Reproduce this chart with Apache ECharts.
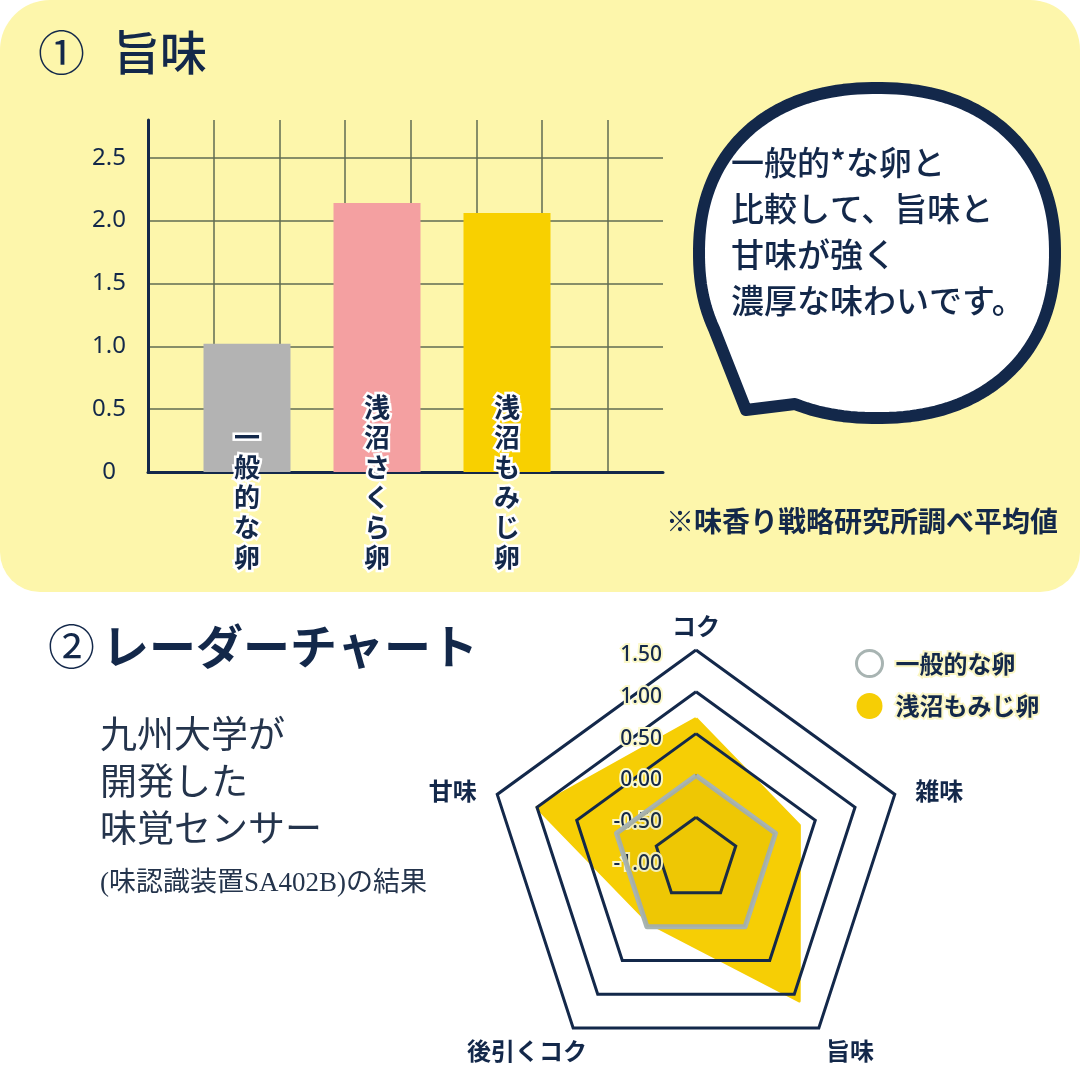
<!DOCTYPE html>
<html><head><meta charset="utf-8">
<script src="https://cdn.jsdelivr.net/npm/echarts/dist/echarts.min.js"></script>
<style>html,body{margin:0;padding:0;background:#fff}#c{width:1080px;height:1080px}</style>
</head><body><div id="c"></div>
<script>
// ---- data ----
const barCategories = ['一般的な卵', '浅沼さくら卵', '浅沼もみじ卵'];
const barValues = [1.02, 2.14, 2.06];
const barColors = ['#b3b3b3', '#f4a0a1', '#f8d000'];
const barTicks = [0, 0.5, 1.0, 1.5, 2.0, 2.5];

const radarIndicators = ['コク', '甘味', '後引くコク', '旨味', '雑味'];
const radarGeneral = [0, 0, 0, 0, 0];
const radarMomiji = [0.68, 1.0, -0.05, 1.1, 0.3];
const radarTicks = [-1.0, -0.5, 0.0, 0.5, 1.0, 1.5];
const seriesNames = ['一般的な卵', '浅沼もみじ卵'];

// ---- styles ----
const NAVY = '#13284a';
const SANS = '"Noto Sans CJK JP", "Noto Sans", sans-serif';
const NUM = '"Noto Sans", "Noto Sans CJK JP", sans-serif';
const SERIF = '"Liberation Serif", "DejaVu Serif", "Noto Sans CJK JP", serif';
const GRIDC = '#5f6b52';

const chart = echarts.init(document.getElementById('c'), null, {renderer: 'canvas'});

function txt(text, x, y, o) {
  return {
    type: 'text', z: 20, silent: true,
    style: Object.assign({
      text: text, x: x, y: y, fill: NAVY, fontFamily: SANS, fontSize: 24,
      align: 'left', verticalAlign: 'middle', textAlign: 'left', textVerticalAlign: 'middle'
    }, o || {})
  };
}

// speech bubble outline: rounded contour with a small tail (decoration only)
function bubbleOutline() {
  const cx = 877, cy = 253, rx = 178, ry = 165, e = 0.9;
  const pw = (v) => Math.sign(v) * Math.pow(Math.abs(v), e);
  const pts = [];
  const t0 = 155, t1 = 475;
  for (let t = t0; t < t1; t += 2) {
    const a = t * Math.PI / 180;
    pts.push([cx + rx * pw(Math.cos(a)), cy + ry * pw(Math.sin(a))]);
  }
  const a1 = t1 * Math.PI / 180;
  pts.push([cx + rx * pw(Math.cos(a1)), cy + ry * pw(Math.sin(a1))]);
  pts.push([746, 410]);
  return pts;
}

const nameKind = {'コク': 't', '甘味': 's', '雑味': 's', '旨味': 'b', '後引くコク': 'c'};
const nameBase = {color: NAVY, fontSize: 24, fontWeight: 'bold', fontFamily: SANS};

const option = {
  animation: false,
  backgroundColor: '#ffffff',
  graphic: [
    {type: 'rect', z: -10, silent: true, shape: {x: 0, y: 0, width: 1080, height: 592, r: [50, 50, 40, 40]}, style: {fill: '#fdf6ab'}},
    {type: 'polygon', z: 10, silent: true, shape: {points: bubbleOutline()},
     style: {fill: '#ffffff', stroke: NAVY, lineWidth: 12, lineJoin: 'round'}},
    txt('一般的*な卵と\n比較して、旨味と\n甘味が強く\n濃厚な味わいです。', 731, 139, {fontSize: 33, fontWeight: 500, lineHeight: 46, verticalAlign: 'top', textVerticalAlign: 'top'}),
    // titles
    txt('①', 38, 58, {fontSize: 47, fontFamily: SERIF}),
    txt('旨味', 113, 58, {fontSize: 47, fontWeight: 500, fontFamily: SERIF}),
    txt('②', 48, 652, {fontSize: 47, fontFamily: SERIF}),
    txt('レーダーチャート', 102, 652, {fontSize: 47, fontWeight: 'bold', fontFamily: SERIF}),
    txt('九州大学が\n開発した\n味覚センサー', 100, 715, {fontSize: 37, lineHeight: 47, fill: '#24344c', fontFamily: SERIF, verticalAlign: 'top', textVerticalAlign: 'top'}),
    txt('(味認識装置SA402B)の結果', 100, 884, {fontSize: 27, fill: '#24344c', fontFamily: SERIF}),
    txt('※味香り戦略研究所調べ平均値', 1058, 521, {fontSize: 28, fontWeight: 'bold', align: 'right', textAlign: 'right'})
  ],
  grid: [
    {left: 148, top: 120, width: 515, height: 352, containLabel: false},
    {left: 182, top: 120, width: 390, height: 352, containLabel: false}
  ],
  xAxis: [
    {gridIndex: 0, type: 'value', min: 0, max: 7.84, interval: 1,
     axisLine: {show: true, onZero: false, lineStyle: {color: NAVY, width: 3}},
     axisTick: {show: false}, axisLabel: {show: false},
     splitLine: {show: true, showMinLine: false, showMaxLine: false, lineStyle: {color: GRIDC, width: 1.5}}},
    {gridIndex: 1, type: 'category', data: barCategories, z: 6,
     axisLine: {show: false}, axisTick: {show: false},
     axisLabel: {interval: 0, margin: 100, verticalAlign: 'bottom', color: NAVY, fontSize: 26, fontWeight: 'bold',
       fontFamily: SANS, lineHeight: 30, textBorderColor: '#ffffff', textBorderWidth: 5,
       formatter: v => v.split('').join('\n')}}
  ],
  yAxis: [
    {gridIndex: 0, type: 'value', min: barTicks[0], max: 2.8, interval: barTicks[1] - barTicks[0],
     axisLine: {show: true, lineStyle: {color: NAVY, width: 3}}, axisTick: {show: false},
     axisLabel: {showMaxLabel: false, margin: 39, align: 'center', color: NAVY, fontSize: 24, fontFamily: NUM,
       formatter: v => (v === 0 ? '0' : v.toFixed(1))},
     splitLine: {show: true, showMinLine: false, showMaxLine: false, lineStyle: {color: GRIDC, width: 1.5}}},
    {gridIndex: 1, type: 'value', min: 0, max: 2.8, show: false}
  ],
  legend: {
    orient: 'vertical', left: 850, top: 644, itemWidth: 26, itemHeight: 26, itemGap: 14, icon: 'circle',
    data: [
      {name: seriesNames[0], itemStyle: {color: '#ffffff', borderColor: '#a8b4b2', borderWidth: 3}},
      {name: seriesNames[1], itemStyle: {color: '#f6ce05'}}
    ],
    textStyle: {color: NAVY, fontSize: 24, fontWeight: 'bold', fontFamily: SANS, padding: [0, 0, 0, 8],
      textBorderColor: '#fbf6c4', textBorderWidth: 4}
  },
  radar: {
    z: 2,
    center: [696, 859], radius: 209, startAngle: 90, shape: 'polygon',
    splitNumber: radarTicks.length - 1,
    axisNameGap: 12,
    axisName: Object.assign({}, nameBase, {
      formatter: n => '{' + (nameKind[n] || 't') + '|' + n + '}',
      rich: {
        t: Object.assign({}, nameBase),
        s: Object.assign({}, nameBase, {padding: [0, 9, 0, 9]}),
        b: Object.assign({}, nameBase, {padding: [26, 0, 0, 0]}),
        c: Object.assign({}, nameBase, {padding: [26, 78, 0, 0]})
      }}),
    indicator: radarIndicators.map((n, i) => {
      const o = {name: n, min: radarTicks[0], max: radarTicks[radarTicks.length - 1]};
      if (i === 0) {
        o.axisLabel = {show: true, color: NAVY, margin: 34,
          textBorderColor: '#fbf8c8', textBorderWidth: 4,
          formatter: v => '{v|' + Number(v).toFixed(2) + '}',
          rich: {v: {fontSize: 21, fontWeight: 500, color: NAVY, fontFamily: NUM, padding: [10, 0, 0, 0],
            textBorderColor: '#fbf8c8', textBorderWidth: 4}}};
      }
      if (nameKind[n] === 'c') {
        o.nameTextStyle = {align: 'center'};
      }
      return o;
    }),
    splitLine: {lineStyle: {color: NAVY, width: 3}},
    splitArea: {show: false},
    axisLine: {show: false},
    axisTick: {show: false},
    axisLabel: {show: false}
  },
  series: [
    {type: 'bar', xAxisIndex: 1, yAxisIndex: 1, barWidth: 87, z: 2,
     data: barValues.map((v, i) => ({value: v, itemStyle: {color: barColors[i]}}))},
    {type: 'radar', z: 1, name: seriesNames[1], symbol: 'none',
     data: [{value: radarMomiji, name: seriesNames[1]}],
     itemStyle: {color: '#f6ce05'},
     lineStyle: {color: '#f6ce05', width: 3, join: 'round'},
     areaStyle: {color: '#f6ce05', opacity: 1}},
    {type: 'radar', z: 3, name: seriesNames[0], symbol: 'none',
     data: [{value: radarGeneral, name: seriesNames[0]}],
     itemStyle: {color: '#a8b4b2'},
     lineStyle: {color: '#a8b4b2', width: 5},
     areaStyle: {color: 'rgba(140,110,0,0.07)', opacity: 1}}
  ]
};
chart.setOption(option);
</script>
</body></html>
